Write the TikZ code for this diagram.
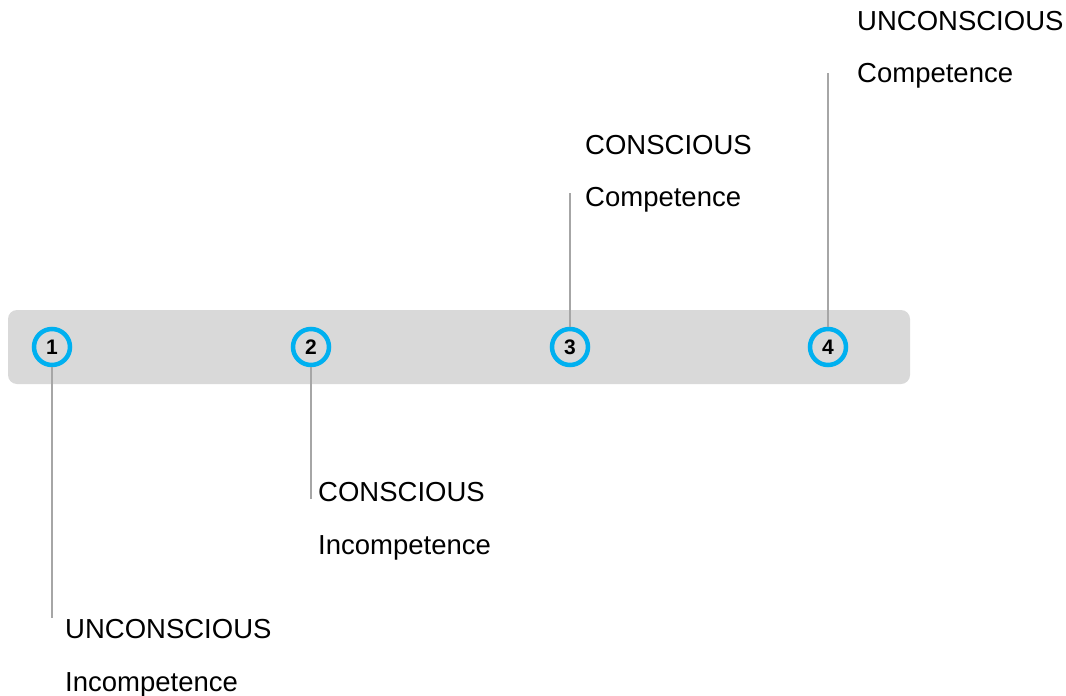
\documentclass[tikz,border=0pt]{standalone}
\usepackage{fontspec}
\setmainfont{Liberation Sans}
\definecolor{barcol}{HTML}{D9D9D9}
\definecolor{ringcol}{HTML}{00B0F0}
\definecolor{linecol}{HTML}{A6A6A6}
\tikzset{
  ring/.style={circle, draw=ringcol, line width=4.5pt, minimum size=36pt, inner sep=0pt, font=\fontsize{21}{24}\selectfont\bfseries},
  lbl/.style={anchor=base west, inner sep=0pt, font=\fontsize{27.5}{32}\selectfont},
  lead/.style={draw=linecol, line width=1.6pt}
}
\begin{document}
\begin{tikzpicture}[x=1pt,y=-1pt]
\useasboundingbox (0,0) rectangle (1066,696);
\fill[barcol, rounded corners=9pt] (8,310) rectangle (910,384);
\node[ring] (c1) at (52,347) {1};
\node[ring] (c2) at (311,347) {2};
\node[ring] (c3) at (570,347) {3};
\node[ring] (c4) at (828,347) {4};
\coordinate (e1) at (52,618);
\coordinate (e2) at (311,499);
\coordinate (e3) at (570,193);
\coordinate (e4) at (828,73);
\draw[lead] (c1.south) -- (e1);
\draw[lead] (c2.south) -- (e2);
\draw[lead] (c3.north) -- (e3);
\draw[lead] (c4.north) -- (e4);
\node[lbl] (l1a) at (65,638) {UNCONSCIOUS};
\node[lbl] (l1b) at (65,691) {Incompetence};
\node[lbl] (l2a) at (318,501) {CONSCIOUS};
\node[lbl] (l2b) at (318,554) {Incompetence};
\node[lbl] (l3a) at (585,154) {CONSCIOUS};
\node[lbl] (l3b) at (585,206) {Competence};
\node[lbl] (l4a) at (857,30) {UNCONSCIOUS};
\node[lbl] (l4b) at (857,82) {Competence};
\end{tikzpicture}
\end{document}
